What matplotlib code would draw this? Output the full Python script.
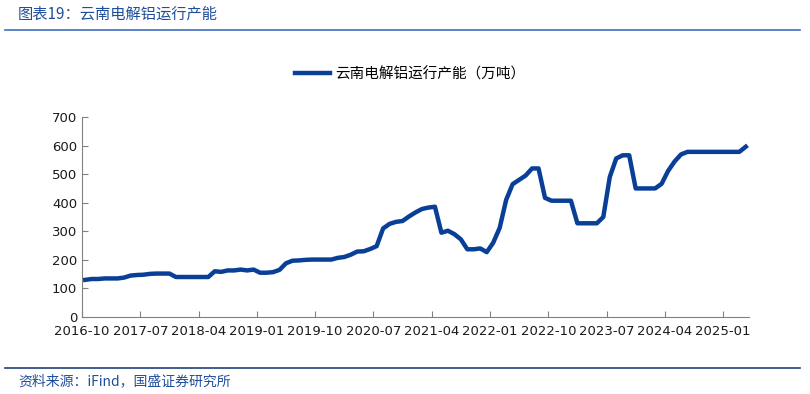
import numpy as np
import matplotlib.pyplot as plt
from matplotlib.lines import Line2D

plt.rcParams['font.family'] = ['Noto Sans CJK SC', 'DejaVu Sans']

# monthly capacity, 2016-10 .. 2025-04 (10k tonnes)
capacity = [130, 133, 133, 135, 135, 135, 138, 145, 147, 148,
            151, 152, 152, 152, 140, 140, 140, 140, 140, 140,
            160, 158, 163, 163, 166, 163, 166, 155, 155, 157,
            165, 188, 197, 198, 200, 201, 201, 201, 201, 207,
            210, 218, 229, 230, 238, 248, 310, 326, 333, 336,
            352, 366, 378, 383, 386, 295, 302, 290, 272, 237,
            237, 240, 227, 260, 312, 410, 465, 480, 495, 520,
            520, 417, 407, 407, 407, 407, 328, 328, 328, 328,
            350, 490, 555, 566, 566, 450, 450, 450, 450, 466,
            511, 544, 569, 578, 578, 578, 578, 578, 578, 578,
            578, 578, 596]
months = [f"{2016 + (9 + i) // 12}-{(9 + i) % 12 + 1:02d}" for i in range(len(capacity))]
tick_idx = list(range(0, len(capacity), 9))
tick_labels = [months[i] for i in tick_idx]

fig = plt.figure(figsize=(8.1, 3.94), dpi=100)
ax = fig.add_axes([82/810, 1-317/394, (749-82)/810, 200/394])

x = np.arange(len(capacity))
ax.plot(x, capacity, color='#0A3F98', lw=3.2, solid_joinstyle='round')

ax.set_xlim(-0.5, len(capacity) - 0.5)
ax.set_ylim(0, 700)
ax.set_yticks(range(0, 701, 100))
ax.set_xticks([i - 0.5 for i in tick_idx])
ax.set_xticklabels(tick_labels, family='DejaVu Sans')
for lab in ax.get_yticklabels():
    lab.set_family('DejaVu Sans')
ax.tick_params(direction='in', length=4, color='#808080', labelsize=9.5, labelcolor='#1a1a1a')
ax.tick_params(axis='x', pad=6)
for s in ['top', 'right']:
    ax.spines[s].set_visible(False)
for s in ['left', 'bottom']:
    ax.spines[s].set_color('#808080')

fig.legend([Line2D([], [], color='#0A3F98', lw=3.2)], ['云南电解铝运行产能（万吨）'],
           loc='center', bbox_to_anchor=(410/810, 1-74/394), frameon=False,
           fontsize=10.5, handlelength=2.4, handletextpad=0.4)

fig.text(18/810, 1-14/394, '图表19：云南电解铝运行产能', color='#1F4E9A', fontsize=11,
         style='italic', va='center', ha='left')
fig.add_artist(Line2D([5/810, 800/810], [1-30/394, 1-30/394], color='#3F6DC0', lw=1.2))
fig.add_artist(Line2D([5/810, 800/810], [1-368/394, 1-368/394], color='#1F3F7A', lw=1.2))
fig.text(18/810, 1-381/394, '资料来源：iFind，国盛证券研究所', color='#1F4E9A', fontsize=10,
         style='italic', va='center', ha='left')

fig.savefig('out.png', dpi=100)
